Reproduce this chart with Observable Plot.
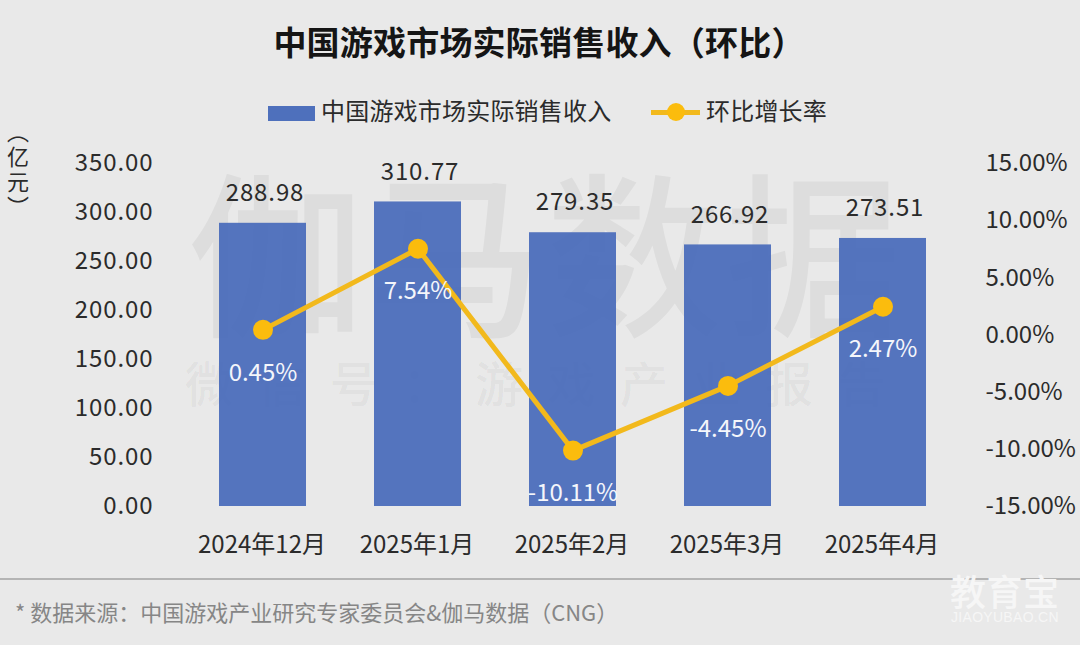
<!DOCTYPE html>
<html>
<head>
<meta charset="utf-8">
<script src="https://cdn.jsdelivr.net/npm/d3@7"></script>
<script src="https://cdn.jsdelivr.net/npm/@observablehq/plot@0.6"></script>
<style>
  html, body { margin: 0; padding: 0; background: #e9e9e9; }
  body { width: 1080px; height: 645px; position: relative; overflow: hidden; font-family: "Noto Sans CJK SC", sans-serif; color: #222; }
  .abs { position: absolute; white-space: nowrap; }
  #title { left: 0; width: 1078px; top: 17px; text-align: center; font-size: 33px; line-height: 48px; font-weight: 700; color: #151515; letter-spacing: .2px; }
  #chart { left: 0; top: 130px; }
  #chart svg { background: transparent; display: block; }
  #chart .wide text { letter-spacing: .9px; }
  .legend-text { font-size: 24px; line-height: 34px; top: 93px; color: #2b2b2b; letter-spacing: .2px; }
  #unit { left: 5px; top: 121px; writing-mode: vertical-rl; font-size: 22px; line-height: 26px; color: #2b2b2b; letter-spacing: 3px; }
  #rule { left: 0; top: 578px; width: 1080px; height: 2px; background: #b4b4b4; }
  #source { left: 15px; top: 596px; font-size: 22px; line-height: 30px; color: #868686; }
  .mark { pointer-events: none; }
  #wm1 { left: 188px; top: 127px; font-size: 176px; line-height: 240px; letter-spacing: 3px; font-weight: 500; color: rgba(0,0,0,0.05); }
  #wm2 { left: 185px; top: 347px; font-size: 48px; line-height: 68px; letter-spacing: 24.5px; font-weight: 500; color: rgba(0,0,0,0.05); }
  #logo1 { left: 950px; top: 567px; font-size: 36px; line-height: 46px; font-weight: 500; letter-spacing: .5px; color: #f6f6f6; }
  #logo2 { left: 951px; top: 609px; font-size: 14px; line-height: 16px; color: #f6f6f6; letter-spacing: .3px; font-family: "Liberation Sans", sans-serif; }
</style>
</head>
<body>
<div id="title" class="abs"></div>

<div class="abs" style="left:268px;top:106px;width:47px;height:15px;background:#4e70bc"></div>
<div id="legendBar" class="abs legend-text" style="left:321px"></div>
<div class="abs" style="left:651px;top:110px;width:49px;height:5px;background:#f2b91c"></div>
<div class="abs" style="left:667px;top:103px;width:18px;height:18px;border-radius:50%;background:#fbbc0d"></div>
<div id="legendLine" class="abs legend-text" style="left:706px"></div>

<div id="unit" class="abs"></div>
<div id="wm1" class="abs mark">伽马数据</div>
<div id="wm2" class="abs mark">微信号：游戏产业报告</div>
<div id="chart" class="abs"></div>
<div id="rule" class="abs"></div>
<div id="source" class="abs"></div>
<div id="logo1" class="abs mark">教育宝</div>
<div id="logo2" class="abs mark">JIAOYUBAO.CN</div>

<script>
const months = ["2024年12月", "2025年1月", "2025年2月", "2025年3月", "2025年4月"];
const revenue = [288.98, 310.77, 279.35, 266.92, 273.51];
const growth = [0.45, 7.54, -10.11, -4.45, 2.47];
const revenueTicks = [0, 50, 100, 150, 200, 250, 300, 350];
const growthTicks = [-15, -10, -5, 0, 5, 10, 15];

const titleText = "中国游戏市场实际销售收入（环比）";
const barName = "中国游戏市场实际销售收入";
const lineName = "环比增长率";
const unitText = "（亿元）";
const sourceText = "* 数据来源：中国游戏产业研究专家委员会&伽马数据（CNG）";

document.getElementById("title").textContent = titleText;
document.getElementById("legendBar").textContent = barName;
document.getElementById("legendLine").textContent = lineName;
document.getElementById("unit").textContent = unitText;
document.getElementById("source").textContent = sourceText;

const rows = months.map((m, i) => ({ month: m, revenue: revenue[i], growth: growth[i] }));

// 右轴：百分比映射到左轴的比例
const toLeft = d3.scaleLinear([-15, 15], [0, 350]);

const textColor = "#2b2b2b";
const font = 24;

const chart = Plot.plot({
  width: 1080,
  height: 445,
  marginTop: 33,
  marginBottom: 69,
  marginLeft: 150,
  marginRight: 86,
  style: { background: "transparent", fontFamily: "'Noto Sans CJK SC', sans-serif" },
  x: { domain: months, padding: 0.44, label: null },
  y: { domain: [0, 350], label: null },
  marks: [
    Plot.barY(rows, { x: "month", y: "revenue", fill: "#4e70bc", fillOpacity: 0.97 }),
    Plot.axisY(revenueTicks, {
      anchor: "left", label: null, tickSize: 0, tickPadding: 0, dx: 3, fontSize: font, fill: textColor,
      className: "wide", tickFormat: d3.format(".2f")
    }),
    Plot.axisY(growthTicks.map(d => toLeft(d)), {
      anchor: "right", label: null, tickSize: 0, tickPadding: 0, dx: -9, fontSize: font, fill: textColor,
      tickFormat: d => toLeft.invert(d).toFixed(2) + "%"
    }),
    Plot.axisX(months, {
      anchor: "bottom", label: null, tickSize: 0, tickPadding: 29, dx: -1, fontSize: font, fill: textColor
    }),
    Plot.text(rows, {
      x: "month", y: "revenue", text: d => d.revenue.toFixed(2),
      dy: -30, dx: 2, fontSize: font, fill: textColor, className: "wide"
    }),
    Plot.line(rows, { x: "month", y: d => toLeft(d.growth), stroke: "#f2b91c", strokeWidth: 5 }),
    Plot.dot(rows, { x: "month", y: d => toLeft(d.growth), r: 10, fill: "#fbbc0d" }),
    Plot.text(rows, {
      x: "month", y: d => toLeft(d.growth), text: d => d.growth.toFixed(2) + "%",
      dy: 43, fontSize: font, fill: "#f4f6fb"
    })
  ]
});

document.getElementById("chart").append(chart);
</script>
</body>
</html>
